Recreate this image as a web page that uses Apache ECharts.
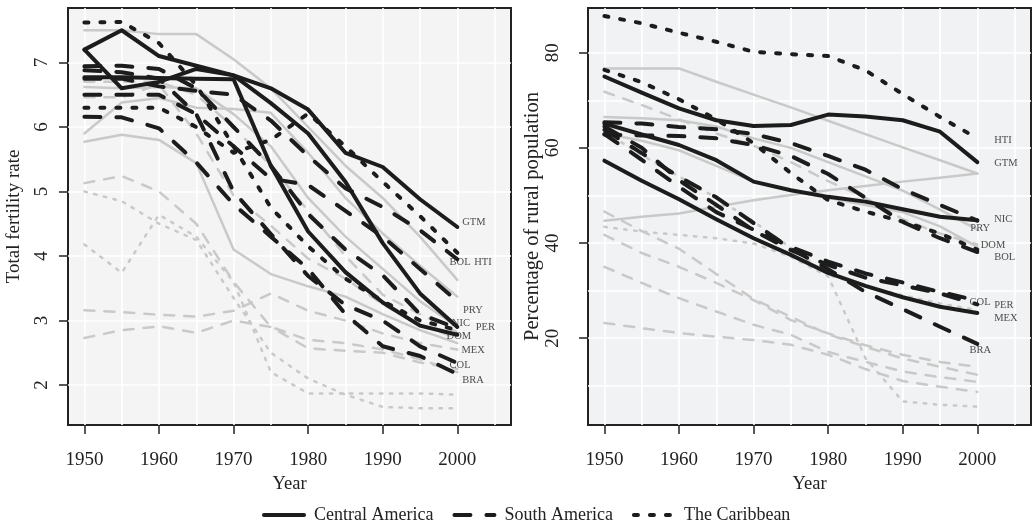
<!DOCTYPE html>
<html><head><meta charset="utf-8">
<script src="https://cdn.jsdelivr.net/npm/echarts@6.0.0/dist/echarts.min.js"></script>
<style>html,body{margin:0;padding:0;background:#fff}#c{width:1035px;height:524px}</style>
</head><body><div id="c"></div>
<script>
const years = [1950,1955,1960,1965,1970,1975,1980,1985,1990,1995,2000];
const xTickLabels = [1950,1960,1970,1980,1990,2000];
const xGridVals = [1950,1955,1960,1965,1970,1975,1980,1985,1990,1995,2000,2005];
const yTickLabelsL = [2,3,4,5,6,7];
const yTickLabelsR = [20,40,60,80];
const yGridValsR = [10,20,30,40,50,60,70,80];
const regions = ['Central America','South America','The Caribbean'];

// ---- Total fertility rate: highlighted countries
const tfrGTM = [7.2, 6.6, 6.7, 6.9, 6.8, 6.6, 6.27, 5.6, 5.38, 4.88, 4.45];
const tfrNIC = [7.2, 7.5, 7.1, 6.95, 6.8, 6.37, 5.9, 5.15, 4.2, 3.42, 2.9];
const tfrMEX = [6.77, 6.77, 6.76, 6.75, 6.74, 5.4, 4.38, 3.75, 3.28, 2.92, 2.78];
const tfrPER = [6.94, 6.95, 6.9, 6.6, 6.0, 5.4, 4.65, 4.1, 3.7, 3.1, 2.88];
const tfrCOL = [6.88, 6.85, 6.75, 6.2, 5.0, 4.34, 3.69, 3.24, 3.0, 2.6, 2.34];
const tfrBOL = [6.75, 6.75, 6.63, 6.56, 6.5, 6.1, 5.55, 5.05, 4.76, 4.4, 3.95];
const tfrPRY = [6.5, 6.5, 6.5, 6.2, 5.7, 5.2, 5.1, 4.7, 4.3, 3.8, 3.3];
const tfrBRA = [6.16, 6.15, 5.98, 5.45, 4.8, 4.3, 3.8, 3.1, 2.6, 2.45, 2.17];
const tfrDOM = [7.62, 7.63, 7.3, 6.65, 5.7, 4.75, 4.15, 3.65, 3.3, 3.0, 2.85];
const tfrHTI = [6.3, 6.3, 6.3, 6.0, 5.6, 5.8, 6.21, 5.7, 5.15, 4.62, 4.05];
// ---- Total fertility rate: other countries (grey)
const tfrHND = [7.5, 7.5, 7.44, 7.44, 7.05, 6.6, 6.0, 5.4, 4.9, 4.3, 3.63];
const tfrSLV = [6.62, 6.6, 6.62, 6.6, 6.2, 5.7, 4.9, 4.3, 3.8, 3.3, 2.9];
const tfrCRI = [5.9, 6.38, 6.45, 6.3, 6.28, 6.22, 5.6, 4.9, 4.35, 3.85, 3.37];
const tfrPAN = [5.77, 5.88, 5.8, 5.44, 4.1, 3.72, 3.53, 3.37, 3.1, 2.85, 2.65];
const tfrARG = [3.16, 3.13, 3.09, 3.06, 3.15, 3.42, 3.15, 3.0, 2.8, 2.65, 2.55];
const tfrURY = [2.73, 2.85, 2.91, 2.81, 3.0, 2.9, 2.57, 2.53, 2.5, 2.35, 2.25];
const tfrCHL = [5.13, 5.24, 5.0, 4.5, 3.6, 2.9, 2.7, 2.65, 2.55, 2.4, 2.2];
const tfrVEN = [6.46, 6.46, 6.66, 5.9, 4.94, 4.47, 3.96, 3.65, 3.25, 2.94, 2.72];
const tfrECU = [6.7, 6.7, 6.7, 6.5, 6.0, 5.4, 4.7, 4.0, 3.4, 3.1, 2.82];
const tfrCUB = [4.18, 3.74, 4.64, 4.3, 3.6, 2.2, 1.87, 1.87, 1.87, 1.87, 1.85];
const tfrPRI = [5.0, 4.85, 4.5, 4.25, 3.35, 2.5, 2.1, 1.85, 1.66, 1.64, 1.64];

// ---- Percentage of rural population: highlighted
const rurGTM = [75.0, 71.6, 68.3, 65.8, 64.6, 64.8, 67.0, 66.6, 65.8, 63.4, 57.0];
const rurNIC = [65.1, 62.8, 60.6, 57.4, 52.9, 51.1, 49.7, 48.7, 47.1, 45.5, 44.8];
const rurMEX = [57.3, 53.1, 49.2, 45.0, 41.0, 37.5, 33.7, 31.0, 28.6, 26.6, 25.3];
const rurPER = [64.5, 60.0, 53.2, 48.0, 42.6, 38.5, 35.4, 32.7, 31.1, 29.4, 27.1];
const rurCOL = [62.9, 57.5, 51.8, 46.5, 42.8, 39.2, 36.1, 33.6, 31.7, 29.7, 27.9];
const rurBRA = [63.8, 58.9, 53.9, 49.6, 44.2, 38.8, 34.5, 29.7, 26.1, 22.4, 18.8];
const rurBOL = [62.8, 62.6, 62.5, 62.0, 60.6, 58.3, 54.5, 49.5, 44.4, 41.0, 38.1];
const rurPRY = [65.4, 65.1, 64.4, 63.9, 62.9, 61.0, 58.3, 55.4, 51.3, 48.0, 44.7];
const rurDOM = [76.4, 73.8, 70.2, 66.0, 61.0, 54.7, 49.0, 46.6, 44.5, 42.0, 38.6];
const rurHTI = [87.7, 86.2, 84.2, 82.3, 80.2, 79.7, 79.3, 76.3, 71.3, 66.5, 62.0];
// ---- Percentage of rural population: others (grey)
const rurHND = [76.7, 76.7, 76.7, 73.9, 71.2, 68.5, 65.7, 62.9, 60.1, 57.4, 54.6];
const rurBLZ = [44.7, 45.5, 46.2, 47.6, 49.0, 50.1, 51.1, 52.0, 52.9, 53.7, 54.6];
const rurSLV = [66.5, 66.2, 65.8, 64.5, 62.0, 60.0, 57.0, 54.0, 51.0, 47.0, 42.8];
const rurCRI = [63.0, 61.5, 59.5, 56.2, 52.9, 51.0, 49.5, 48.0, 46.5, 43.5, 39.2];
const rurECU = [71.8, 69.0, 66.0, 63.0, 60.5, 57.0, 53.0, 49.5, 45.0, 42.0, 39.7];
const rurVEN = [46.6, 42.5, 38.8, 33.5, 28.2, 24.5, 20.8, 18.2, 15.7, 14.0, 12.3];
const rurCHL = [41.7, 37.9, 35.0, 31.6, 28.0, 23.8, 21.0, 18.5, 16.5, 15.0, 14.0];
const rurARG = [35.0, 31.6, 28.4, 25.6, 22.8, 20.7, 17.1, 15.0, 13.0, 11.8, 10.8];
const rurURY = [23.2, 22.1, 21.1, 20.3, 19.6, 18.6, 16.5, 13.5, 11.0, 9.8, 8.7];
const rurPRI = [43.4, 42.4, 41.7, 41.0, 39.9, 37.1, 33.0, 15.8, 6.7, 6.0, 5.6];
const rurCUB = [63.4, 58.5, 54.0, 49.5, 44.5, 39.0, 33.3, 31.0, 29.0, 27.3, 25.9];

// ---- direct labels (data coordinates)
const labNamesL = ['GTM','BOL','HTI','PRY','NIC','PER','DOM','MEX','COL','BRA'];
const labXL = [2000.6, 1998.9, 2002.2, 2000.7, 1999.2, 2002.4, 1998.5, 2000.5, 1998.9, 2000.6];
const labYL = [4.53, 3.90, 3.90, 3.16, 2.95, 2.90, 2.75, 2.54, 2.31, 2.08];
const labNamesR = ['HTI','GTM','NIC','PRY','DOM','BOL','COL','PER','MEX','BRA'];
const labXR = [2002.2, 2002.2, 2002.2, 1999.0, 2000.4, 2002.2, 1998.9, 2002.2, 2002.2, 1998.9];
const labYR = [61.7, 56.8, 44.9, 43.1, 39.6, 36.9, 27.6, 27.0, 24.1, 17.5];

const FONT = 'Liberation Serif';
const BLACK = '#1c1c1c', GREY = '#c9c9c9';
const dashBlack = {0:'solid', 1:[16,16], 2:[4,12]};
const dashGrey = {0:'solid', 1:[10,10], 2:[2.5,7.5]};

function line(vals, grid, region, highlight, name) {
  return {
    type:'line', name: name, xAxisIndex: grid*2, yAxisIndex: grid===0?0:1,
    data: years.map((y,i)=>[y, vals[i]]), symbol:'none', silent:true,
    z: highlight?5:3,
    lineStyle: highlight
      ? {color:BLACK, width:4, type:dashBlack[region], cap:'round', join:'round'}
      : {color:GREY, width:2.5, type:dashGrey[region], cap:'round', join:'round'},
    itemStyle:{color:'rgba(0,0,0,0)', borderWidth:0}
  };
}
function labels(names, xs, ys, grid) {
  return {
    type:'scatter', xAxisIndex: grid*2, yAxisIndex: grid===0?0:1, silent:true, z:8,
    symbolSize:1, itemStyle:{color:'rgba(0,0,0,0)'},
    data: names.map((n,i)=>[xs[i], ys[i], n]),
    label:{show:true, position:'right', distance:0, formatter:p=>p.data[2],
      fontFamily:FONT, fontSize:10.5, color:'#222'}
  };
}

const series = [
  line(tfrHND,0,0,false,'HND'), line(tfrSLV,0,0,false,'SLV'), line(tfrCRI,0,0,false,'CRI'), line(tfrPAN,0,0,false,'PAN'),
  line(tfrARG,0,1,false,'ARG'), line(tfrURY,0,1,false,'URY'), line(tfrCHL,0,1,false,'CHL'), line(tfrVEN,0,1,false,'VEN'), line(tfrECU,0,1,false,'ECU'),
  line(tfrCUB,0,2,false,'CUB'), line(tfrPRI,0,2,false,'PRI'),
  line(rurHND,1,0,false,'HND'), line(rurBLZ,1,0,false,'BLZ'), line(rurSLV,1,0,false,'SLV'), line(rurCRI,1,0,false,'CRI'),
  line(rurECU,1,1,false,'ECU'), line(rurVEN,1,1,false,'VEN'), line(rurCHL,1,1,false,'CHL'), line(rurARG,1,1,false,'ARG'), line(rurURY,1,1,false,'URY'),
  line(rurPRI,1,2,false,'PRI'), line(rurCUB,1,2,false,'CUB'),
  line(tfrGTM,0,0,true,regions[0]), line(tfrNIC,0,0,true,regions[0]), line(tfrMEX,0,0,true,regions[0]),
  line(tfrPER,0,1,true,regions[1]), line(tfrCOL,0,1,true,regions[1]), line(tfrBOL,0,1,true,regions[1]), line(tfrPRY,0,1,true,regions[1]), line(tfrBRA,0,1,true,regions[1]),
  line(tfrDOM,0,2,true,regions[2]), line(tfrHTI,0,2,true,regions[2]),
  line(rurGTM,1,0,true,regions[0]), line(rurNIC,1,0,true,regions[0]), line(rurMEX,1,0,true,regions[0]),
  line(rurPER,1,1,true,regions[1]), line(rurCOL,1,1,true,regions[1]), line(rurBOL,1,1,true,regions[1]), line(rurPRY,1,1,true,regions[1]), line(rurBRA,1,1,true,regions[1]),
  line(rurDOM,1,2,true,regions[2]), line(rurHTI,1,2,true,regions[2]),
  labels(labNamesL, labXL, labYL, 0),
  labels(labNamesR, labXR, labYR, 1)
];

const tickStyle = {show:true, length:9, lineStyle:{color:'#222', width:1.5}};
const labStyle = {fontFamily:FONT, fontSize:19, color:'#222'};
const titleStyle = {fontFamily:FONT, fontSize:18.5, color:'#222'};
const yTitleStyleL = {fontFamily:FONT, fontSize:19, color:'#222'};
const yTitleStyleR = {fontFamily:FONT, fontSize:20.5, color:'#222'};
const plain = v => String(v);
function xAxes(grid) {
  return [
    {gridIndex:grid, type:'value', min:1947.8, max:2007.2, position:'bottom',
     axisLine:{show:false}, splitLine:{show:false},
     axisTick:Object.assign({customValues:xTickLabels}, tickStyle),
     axisLabel:Object.assign({customValues:xTickLabels, margin:26, formatter:plain}, labStyle),
     name:'Year', nameLocation:'middle', nameGap:46, nameTextStyle:titleStyle},
    {gridIndex:grid, type:'value', min:1947.8, max:2007.2, position:'bottom',
     axisLine:{show:false}, axisLabel:{show:false},
     axisTick:{show:false, customValues:xGridVals},
     splitLine:{show:true, lineStyle:{color:'#ffffff', width:1.6}}}
  ];
}

const option = {
  animation:false,
  backgroundColor:'#ffffff',
  grid:[
    {left:68, top:8, width:443, height:417, show:true, backgroundColor:'#f4f4f4', borderColor:'#222', borderWidth:2},
    {left:588, top:8, width:443, height:417, show:true, backgroundColor:'#f1f2f3', borderColor:'#222', borderWidth:2}
  ],
  xAxis: xAxes(0).concat(xAxes(1)),
  yAxis:[
    {gridIndex:0, type:'value', min:1.38, max:7.845, axisLine:{show:false},
     axisTick:Object.assign({customValues:yTickLabelsL}, tickStyle),
     axisLabel:Object.assign({customValues:yTickLabelsL, rotate:90, margin:16, formatter:plain}, labStyle),
     splitLine:{show:true, lineStyle:{color:'#ffffff', width:1.6}},
     name:'Total fertility rate', nameLocation:'middle', nameGap:44, nameRotate:90, nameTextStyle:yTitleStyleL},
    {gridIndex:1, type:'value', min:1.74, max:89.4, axisLine:{show:false},
     axisTick:Object.assign({customValues:yTickLabelsR}, tickStyle),
     axisLabel:Object.assign({customValues:yTickLabelsR, rotate:90, margin:25, formatter:plain}, labStyle),
     splitLine:{show:false},
     name:'Percentage of rural population', nameLocation:'middle', nameGap:43, nameRotate:90, nameTextStyle:yTitleStyleR},
    {gridIndex:1, type:'value', min:1.74, max:89.4, axisLine:{show:false},
     axisTick:{show:false, customValues:yGridValsR}, axisLabel:{show:false},
     splitLine:{show:true, lineStyle:{color:'#ffffff', width:1.6}}}
  ],
  legend:{data:regions, left:262, top:506, padding:0, itemWidth:40, itemHeight:14, itemGap:19,
    itemStyle:{color:'rgba(0,0,0,0)', borderWidth:0, opacity:0},
    lineStyle:{width:4},
    textStyle:{fontFamily:FONT, fontSize:18, color:'#222', padding:[0,0,0,5], width:120}},
  series: series
};
const chart = echarts.init(document.getElementById('c'), null, {renderer:'canvas'});
chart.setOption(option);
</script></body></html>
